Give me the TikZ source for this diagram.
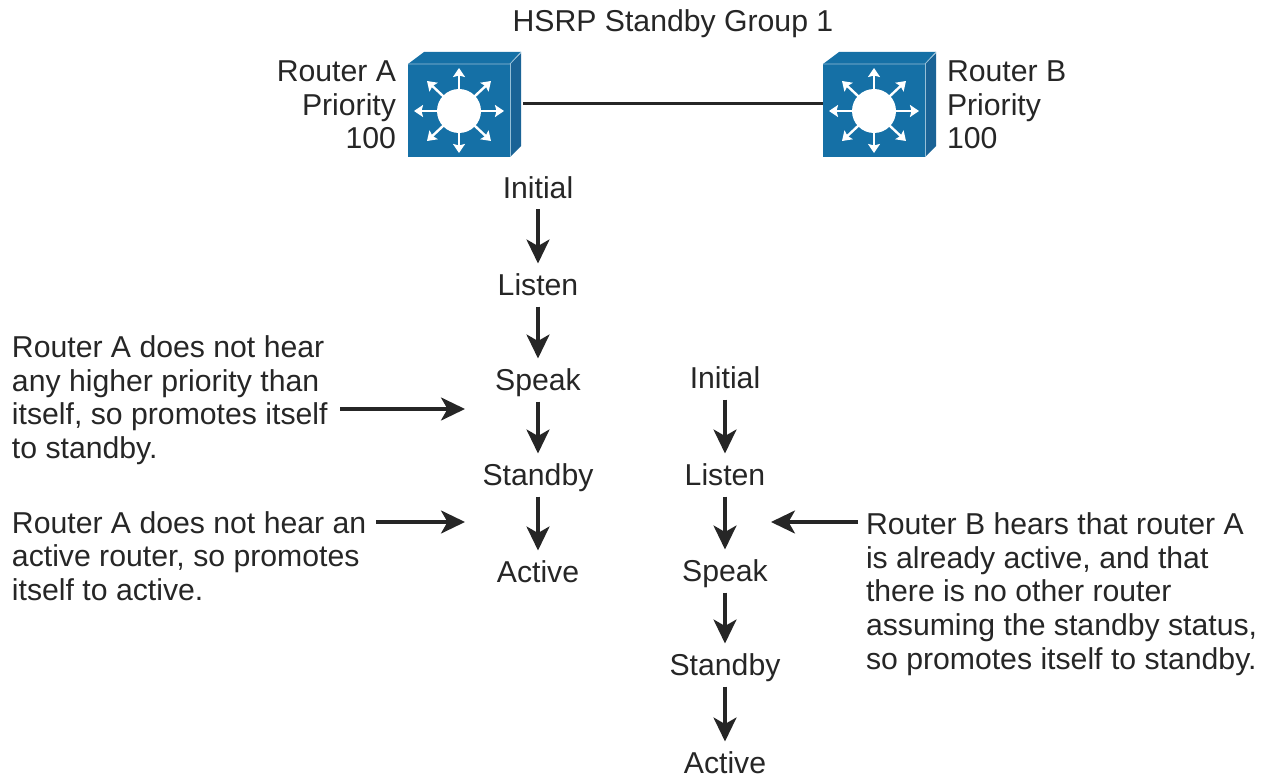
\documentclass[tikz,border=0pt]{standalone}
\usepackage{fontspec}
\setmainfont{Liberation Sans}
\usetikzlibrary{arrows.meta}
\definecolor{swfront}{HTML}{1570A6}
\definecolor{swside}{HTML}{1A6396}
\definecolor{inktext}{HTML}{262626}
\newcommand{\swicon}[1]{%
  \begin{scope}[shift={(#1,0)}]
    \fill[swfront] (408,64) -- (424,52) -- (521,52) -- (510,64) -- cycle;
    \fill[swside] (510,64) -- (521,53) -- (521,146) -- (510,157) -- cycle;
    \draw[white!55!swfront,line width=.8pt] (408,64) -- (510,64) -- (521,52);
    \draw[white!55!swfront,line width=.8pt] (510,64) -- (510,157);
    \foreach \dx/\dy in {45/0,-45/0,0/-43,0/42,32/-30,-32/-30,32/30,-32/30}{
      \draw[swarrow] (459,111) -- ++(\dx,\dy);
    }
    \fill[white] (459,111) circle (22);
  \end{scope}}
\tikzset{
  x=1pt,y=-1pt,
  label/.style={font=\fontsize{30.2}{33.6}\selectfont,text=inktext,inner sep=0pt,outer sep=0pt},
  swbox/.style={fill=swfront,draw=none,minimum width=102pt,minimum height=93pt,inner sep=0pt},
  swarrow/.style={white,line width=2.4pt,-{Stealth[length=9pt,width=12pt,inset=1.5pt]}},
  flow/.style={draw=inktext,line width=3.2pt,-{Stealth[length=24pt,width=23pt,inset=6.5pt]}},
  link/.style={draw=inktext,line width=3pt},
  state/.style={label,anchor=center,text height=23.5pt,text depth=2.5pt,inner ysep=8.5pt},
}
\begin{document}
\begin{tikzpicture}
\useasboundingbox (0,0) rectangle (1269,778);
\node[label,anchor=center] (title) at (673,23.5) {HSRP Standby Group 1};
\node[swbox] (swa) at (459,110.5) {};
\node[swbox] (swb) at (874,110.5) {};
\swicon{0}
\swicon{415}
\draw[link] ([xshift=13pt,yshift=6.5pt]swa.east) -- ([yshift=6.5pt]swb.west);
\node[label,anchor=east,align=right] (ra) at (396,105) {Router A\\Priority\\100};
\node[label,anchor=west,align=left] (rb) at (947,105) {Router B\\Priority\\100};
\node[state] (i1) at (538,188) {Initial};
\node[state] (l1) at (538,285) {Listen};
\node[state] (s1) at (538,380) {Speak};
\node[state] (y1) at (538,475) {Standby};
\node[state] (c1) at (538,572) {Active};
\node[state] (i2) at (725,378) {Initial};
\node[state] (l2) at (725,475) {Listen};
\node[state] (s2) at (725,571) {Speak};
\node[state] (y2) at (725,665) {Standby};
\node[state] (c2) at (725,763) {Active};
\foreach \p/\q in {i1/l1,l1/s1,s1/y1,y1/c1,i2/l2,l2/s2,s2/y2,y2/c2}{
  \draw[flow] (\p) -- (\q);
}
\node[label,anchor=west,align=left] (na) at (12,400) {Router A does not hear\\any higher priority than\\itself, so promotes itself\\to standby.};
\node[label,anchor=west,align=left] (nb) at (12,556) {Router A does not hear an\\active router, so promotes\\itself to active.};
\node[label,anchor=west,align=left] (nc) at (866,594) {Router B hears that router A\\is already active, and that\\there is no other router\\assuming the standby status,\\so promotes itself to standby.};
\coordinate (ea) at (340,409);
\coordinate (eat) at (465,409);
\coordinate (eb) at (376,522);
\coordinate (ebt) at (465,522);
\coordinate (ec) at (858,522);
\coordinate (ect) at (771,522);
\draw[flow] (ea) -- (eat);
\draw[flow] (eb) -- (ebt);
\draw[flow] (ec) -- (ect);
\end{tikzpicture}
\end{document}
